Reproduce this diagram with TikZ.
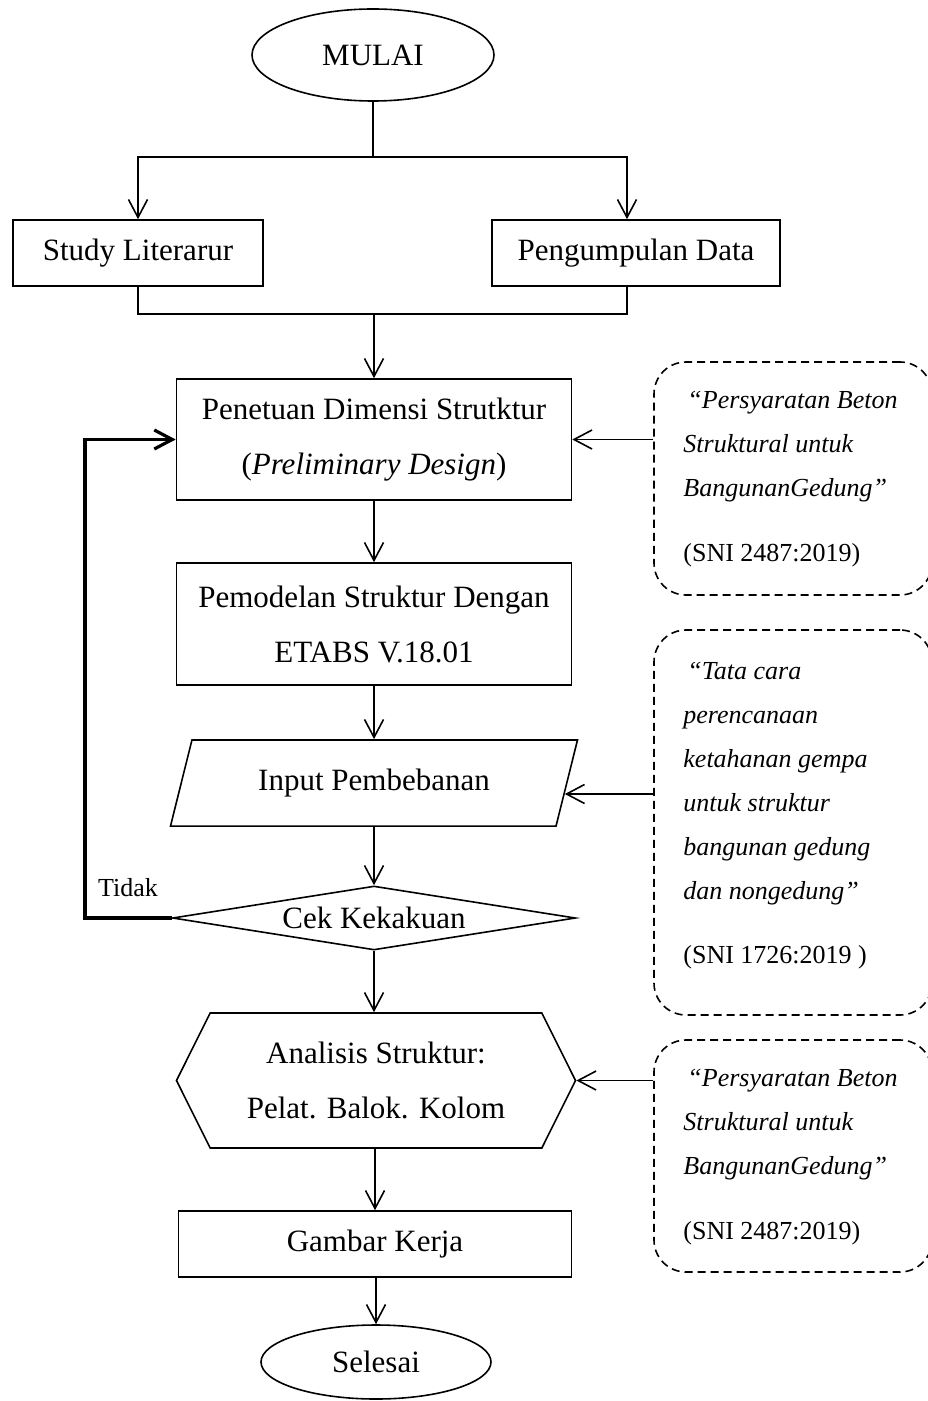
\documentclass[tikz,border=0pt]{standalone}
\usepackage{fontspec}
\setmainfont{Liberation Serif}
\usetikzlibrary{shapes.geometric, shapes.symbols, arrows.meta}
\tikzset{
    base/.style={draw, line width=0.8pt, font=\fontsize{15.5}{27.5}\selectfont, align=center, inner sep=2pt},
    terminal/.style={base, ellipse, minimum width=121pt, minimum height=46pt},
    process/.style={base, rectangle, minimum height=33pt},
    io/.style={base, trapezium, trapezium left angle=76, trapezium right angle=104,
        trapezium stretches body, inner ysep=14.5pt, minimum width=203.5pt, minimum height=43pt},
    decision/.style={base, diamond, aspect=6, minimum width=201.5pt, minimum height=32pt, inner sep=0pt},
    prep/.style={base, signal, signal to=west and east, signal pointer angle=127,
        minimum width=199.5pt, minimum height=67.5pt},
    refbox/.style={draw, dash pattern=on 4pt off 2.5pt, line width=0.8pt, rounded corners=16pt, minimum width=139pt},
    reftext/.style={font=\fontsize{13}{22}\selectfont\itshape, align=left, inner sep=0pt, anchor=north west},
    link/.style={line width=0.8pt},
    arr/.style={line width=0.8pt, -{Straight Barb[length=9pt, width=9.5pt]}},
    loopline/.style={line width=1.6pt, -{Straight Barb[length=9pt, width=9.5pt]}}
}

\begin{document}
\begin{tikzpicture}[x=0.5pt, y=-0.5pt]
  % page size
  \useasboundingbox (0,0) rectangle (927,1401);

  % main column
  \node[terminal] (mulai) at (373,55) {MULAI};
  \node[process, minimum width=125pt] (study) at (138,253) {Study Literarur};
  \node[process, minimum width=144pt] (data) at (636,253) {Pengumpulan Data};
  \node[process, minimum width=197.5pt, minimum height=60.5pt] (penetuan) at (374,439.5)
    {Penetuan Dimensi Strutktur\\(\textit{Preliminary Design})};
  \node[process, minimum width=197.5pt, minimum height=61pt] (pemodelan) at (374,624)
    {Pemodelan Struktur Dengan\\ETABS V.18.01};
  \node[io] (input) at (374,783) {Input Pembebanan};
  \node[decision] (cek) at (374,918) {Cek Kekakuan};
  \node[prep] (analisis) at (376,1080.5) {Analisis Struktur:\\Pelat. Balok. Kolom};
  \node[process, minimum width=196.5pt] (gambar) at (375,1244) {Gambar Kerja};
  \node[terminal, minimum width=115pt, minimum height=37pt] (selesai) at (376,1362) {Selesai};

  % references (dashed)
  \node[refbox, minimum height=116.5pt] (ref1) at (793,478.5) {};
  \node[reftext] (ref1txt) at (683,391)
    {\hspace*{2pt}“Persyaratan Beton\\Struktural untuk\\BangunanGedung”\\[10.5pt]\upshape(SNI 2487:2019)};
  \node[refbox, minimum height=192.5pt] (ref2) at (793,822.5) {};
  \node[reftext] (ref2txt) at (683,662)
    {\hspace*{2pt}“Tata cara\\perencanaan\\ketahanan gempa\\untuk struktur\\bangunan gedung\\dan nongedung”\\[10pt]\upshape(SNI 1726:2019 )};
  \node[refbox, minimum height=116pt] (ref3) at (793,1156) {};
  \node[reftext] (ref3txt) at (683,1069)
    {\hspace*{2pt}“Persyaratan Beton\\Struktural untuk\\BangunanGedung”\\[10.5pt]\upshape(SNI 2487:2019)};

  % split and join
  \coordinate (split) at (373,157);
  \coordinate (join) at (374,314);
  \draw[link] (mulai.south) -- (split);
  \draw[arr] (split) -| (study.north);
  \draw[arr] (split) -| ([xshift=-4.5pt]data.north);
  \draw[link] (study.south) |- (join);
  \draw[link] ([xshift=-4.5pt]data.south) |- (join);
  \draw[arr] (join) -- (penetuan.north);

  % flow
  \draw[arr] (penetuan.south) -- (pemodelan.north);
  \draw[arr] (pemodelan.south) -- (input.north);
  \draw[arr] (input.south) -- (cek.north);
  \draw[arr] (cek.south) -- (cek.south |- analisis.north);
  \draw[arr] (analisis.south -| gambar.north) -- (gambar.north);
  \draw[arr] (gambar.south) -- (gambar.south -| selesai.north) -- (selesai.north);

  % back to design
  \coordinate (back) at (85,0);
  \draw[loopline] (cek.west) -- (cek.west -| back) |- (penetuan.west);
  \node[font=\fontsize{13}{15}\selectfont] (tidak) at (128,888) {Tidak};

  % references to steps
  \coordinate (inR) at ([yshift=-5.5pt, xshift=-1.4pt]input.east);
  \draw[arr] (ref1.west |- penetuan.east) -- (penetuan.east);
  \draw[arr] (ref2.west |- inR) -- (inR);
  \draw[arr] (ref3.west |- analisis.east) -- (analisis.east);
\end{tikzpicture}
\end{document}
